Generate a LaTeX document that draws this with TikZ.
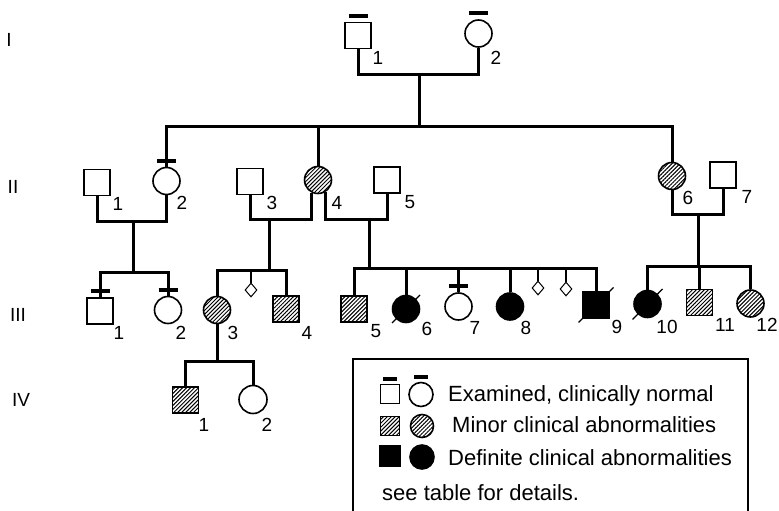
\documentclass[tikz,border=0pt]{standalone}
\usepackage{fontspec}
\setmainfont{Liberation Sans}
\usetikzlibrary{patterns.meta,shapes.geometric}

\tikzset{
  male/.style={draw, rectangle, minimum size=26pt, inner sep=0pt, line width=1.6pt},
  female/.style={draw, circle, minimum size=27pt, inner sep=0pt, line width=1.6pt},
  minor/.style={pattern={Lines[angle=45,distance=2.8pt,line width=1pt]}},
  definite/.style={fill=black},
  unknown/.style={draw, diamond, minimum width=12pt, minimum height=14pt, inner sep=0pt, line width=1pt},
  link/.style={line width=3pt},
  thinlink/.style={line width=1.8pt},
  examined/.style={line width=4pt},
  dead/.style={line width=1.3pt},
  num/.style={font=\fontsize{19}{19}\selectfont, inner sep=0pt},
  gen/.style={font=\fontsize{19}{19}\selectfont, inner sep=0pt},
  legtext/.style={font=\fontsize{22}{22}\selectfont, inner sep=0pt, anchor=base west},
}

\begin{document}
\begin{tikzpicture}[x=1pt, y=-1pt]
\useasboundingbox (0,0) rectangle (779,511);

% generations
\node[gen] (g1) at (9,39.5) {I};
\node[gen] (g2) at (13,187) {II};
\node[gen] (g3) at (18,315) {III};
\node[gen] (g4) at (21,400) {IV};

% generation I
\node[male] (I1) at (358,35.5) {};
\node[female] (I2) at (478.5,33.5) {};
\node[num] (n-I1) at (378,58) {1};
\node[num] (n-I2) at (496,58) {2};
\coordinate (m-I) at (419,75);
\coordinate (s-I) at (419,126);
\draw[link] (I1.south) |- (m-I) -| (I2.south);
\draw[link] (m-I) -- (s-I);

% generation II
\node[male] (II1) at (97,182.5) {};
\node[female] (II2) at (166.5,181) {};
\node[male] (II3) at (250,181.5) {};
\node[female, minor] (II4) at (318,180) {};
\node[male] (II5) at (387,180) {};
\node[female, minor] (II6) at (672,176) {};
\node[male] (II7) at (723,175) {};
\node[num] (n-II1) at (118,204) {1};
\node[num] (n-II2) at (182,203) {2};
\node[num] (n-II3) at (272,203) {3};
\node[num] (n-II4) at (337,203) {4};
\node[num] (n-II5) at (410,202) {5};
\node[num] (n-II6) at (688,198) {6};
\node[num] (n-II7) at (747,197) {7};

\draw[link] (II2.north) |- (s-I) -| (II6.north);
\draw[link] (II4.north) -- (II4.north |- s-I);

\coordinate (m-II12) at (133,221);
\coordinate (m-II34) at (269,219);
\coordinate (m-II45) at (369,219);
\coordinate (m-II67) at (698,214);
\draw[link] (II1.south) |- (m-II12) -| (II2.south);
\draw[link] (II3.south) |- (m-II34) -| (II4.-116);
\draw[link] (II4.-60) |- (m-II45) -| (II5.south);
\draw[link] (II6.south) |- (m-II67) -| (II7.south);

% generation III
\node[male] (III1) at (100,311) {};
\node[female] (III2) at (168,310) {};
\node[female, minor] (III3) at (217,310) {};
\node[unknown] (d1) at (251,290) {};
\node[male, minor] (III4) at (286,309) {};
\node[male, minor] (III5) at (354,309) {};
\node[female, definite] (III6) at (406,309) {};
\node[female] (III7) at (458.5,306.5) {};
\node[female, definite] (III8) at (510,306.5) {};
\node[unknown] (d2) at (538,288) {};
\node[unknown] (d3) at (566,289) {};
\node[male, definite] (III9) at (596,305) {};
\node[female, definite] (III10) at (647.5,304) {};
\node[male, minor] (III11) at (699.5,302.5) {};
\node[female, minor] (III12) at (750.5,303.5) {};
\node[num] (n-III1) at (119,333) {1};
\node[num] (n-III2) at (181,333) {2};
\node[num] (n-III3) at (233,333) {3};
\node[num] (n-III4) at (307,333) {4};
\node[num] (n-III5) at (376,331) {5};
\node[num] (n-III6) at (427,329) {6};
\node[num] (n-III7) at (475,328) {7};
\node[num] (n-III8) at (526,328) {8};
\node[num] (n-III9) at (617,327) {9};
\node[num] (n-III10) at (667,327) {10};
\node[num] (n-III11) at (725,325) {11};
\node[num] (n-III12) at (767,325) {12};

\coordinate (s-II12) at (133,272);
\coordinate (s-II34) at (269,270);
\coordinate (s-II45) at (369,268);
\coordinate (s-II67) at (698,266);
\draw[link] (m-II12) -- (s-II12);
\draw[link] (III1.north) |- (s-II12) -| (III2.north);
\draw[link] (m-II34) -- (s-II34);
\draw[link] (III3.north) |- (s-II34) -| (III4.north);
\draw[thinlink] (d1.north) -- (d1.north |- s-II34);
\draw[link] (m-II45) -- (s-II45);
\draw[link] (III5.north) |- (s-II45) -| (III9.north);
\foreach \k in {III6,III7,III8}
  \draw[link] (\k.north) -- (\k.north |- s-II45);
\foreach \k in {d2,d3}
  \draw[thinlink] (\k.north) -- (\k.north |- s-II45);
\draw[link] (m-II67) -- (s-II67);
\draw[link] (III10.north) |- (s-II67) -| (III12.north);
\draw[link] (III11.north) -- (III11.north |- s-II67);

% deceased
\draw[dead] ([shift={(-14,14)}]III6.center) -- ([shift={(14,-14)}]III6.center);
\draw[dead] ([shift={(-17.5,17.5)}]III9.center) -- ([shift={(17.5,-17.5)}]III9.center);
\draw[dead] ([shift={(-15,15.5)}]III10.center) -- ([shift={(15,-15)}]III10.center);

% generation IV
\node[male, minor] (IV1) at (185.5,400) {};
\node[female, minimum size=28pt] (IV2) at (253,399.5) {};
\node[num] (n-IV1) at (204,425) {1};
\node[num] (n-IV2) at (267,425) {2};
\coordinate (s-III3) at (217,361);
\draw[link] (III3.south) -- (s-III3);
\draw[link] (IV1.north) |- (s-III3) -| (IV2.north);

% examined
\foreach \p in {I1,I2,II2,III1,III2,III7}
  \draw[examined] ([xshift=-9.5pt,yshift=6pt]\p.north) -- ([xshift=9.5pt,yshift=6pt]\p.north);

% key
\draw[line width=1.6pt] (353,359) rectangle (748,530);
\node[male, minimum size=19pt] (k1) at (390,394) {};
\node[female, minimum size=24pt] (k2) at (421,394.5) {};
\draw[examined] ([xshift=-7pt,yshift=5pt]k1.north) -- ([xshift=7pt,yshift=5pt]k1.north);
\draw[examined] ([xshift=-7pt,yshift=5pt]k2.north) -- ([xshift=7pt,yshift=5pt]k2.north);
\node[legtext] (t1) at (448,401) {Examined, clinically normal};
\node[male, minor, minimum size=19pt] (k3) at (390,426) {};
\node[female, minor, minimum size=23pt] (k4) at (422,426) {};
\node[legtext] (t2) at (452,432) {Minor clinical abnormalities};
\node[male, definite, minimum size=20pt] (k5) at (390,456) {};
\node[female, definite, minimum size=24pt] (k6) at (422,457) {};
\node[legtext] (t3) at (448,465) {Definite clinical abnormalities};
\node[legtext] (t4) at (382,500) {see table for details.};
\end{tikzpicture}
\end{document}
